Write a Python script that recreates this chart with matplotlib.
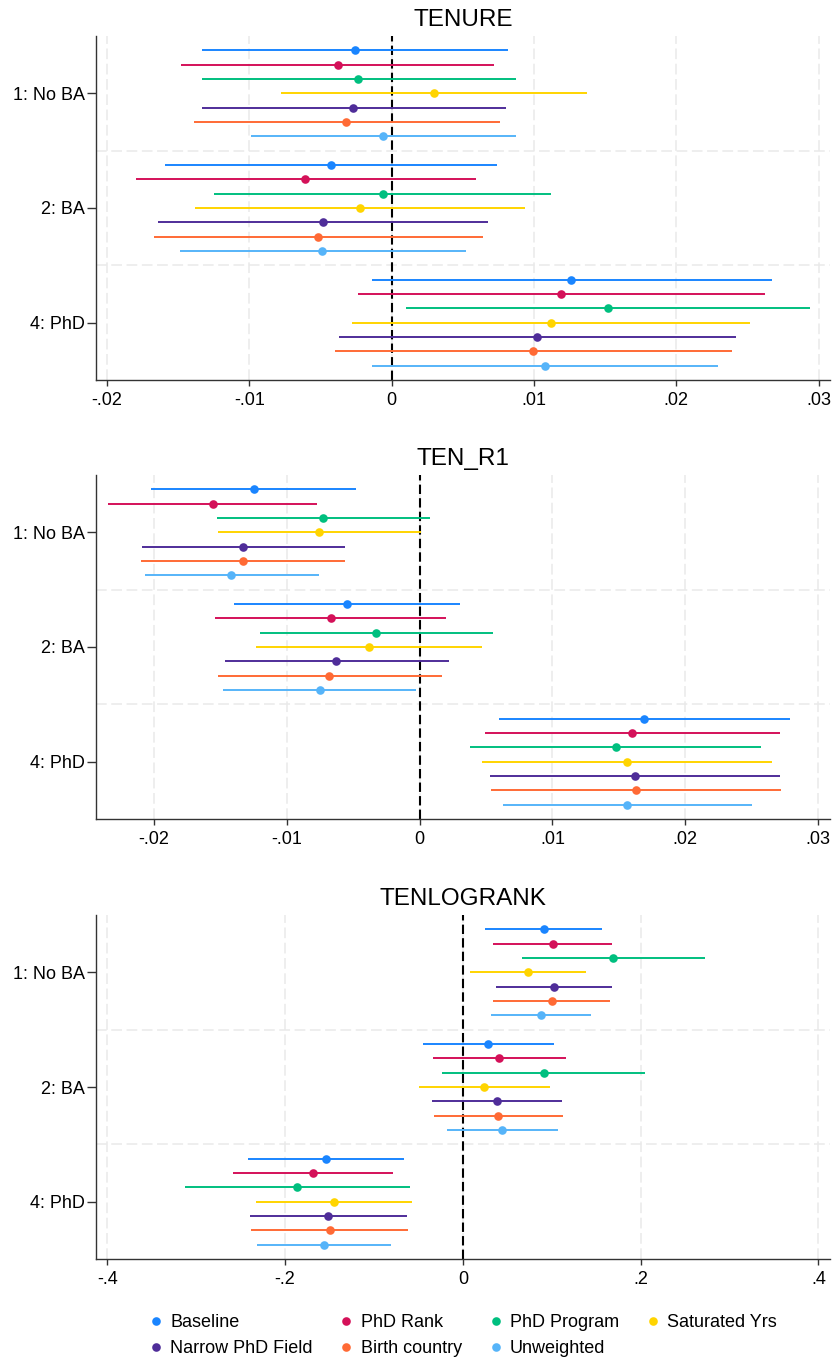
import matplotlib
matplotlib.use("Agg")
import matplotlib.pyplot as plt
from matplotlib.lines import Line2D
from matplotlib.ticker import FuncFormatter

plt.rcParams['font.family'] = ['Liberation Sans', 'DejaVu Sans']

# Specifications (one coloured estimate per specification)
series = ["Baseline", "PhD Rank", "PhD Program", "Saturated Yrs",
          "Narrow PhD Field", "Birth country", "Unweighted"]
colors = ["#1a85ff", "#d41159", "#00bf7f", "#ffd400",
          "#4f2d99", "#ff6a35", "#56b4f9"]

categories = ["1: No BA", "2: BA", "4: PhD"]

# TENURE: rows = categories, columns = specifications
tenure_est = [[-0.0026, -0.0038, -0.0024, 0.0030, -0.0027, -0.0032, -0.0006],
              [-0.0043, -0.0061, -0.0006, -0.0022, -0.0048, -0.0052, -0.0049],
              [0.0126, 0.0119, 0.0152, 0.0112, 0.0102, 0.0099, 0.0108]]
tenure_lo = [[-0.0133, -0.0148, -0.0133, -0.0078, -0.0133, -0.0139, -0.0099],
             [-0.0159, -0.0180, -0.0125, -0.0138, -0.0164, -0.0167, -0.0149],
             [-0.0014, -0.0024, 0.0010, -0.0028, -0.0037, -0.0040, -0.0014]]
tenure_hi = [[0.0082, 0.0072, 0.0087, 0.0137, 0.0080, 0.0076, 0.0087],
             [0.0074, 0.0059, 0.0112, 0.0094, 0.0068, 0.0064, 0.0052],
             [0.0267, 0.0262, 0.0294, 0.0252, 0.0242, 0.0239, 0.0229]]

# TEN_R1
tenr1_est = [[-0.0125, -0.0156, -0.0073, -0.0076, -0.0133, -0.0133, -0.0142],
             [-0.0055, -0.0067, -0.0033, -0.0038, -0.0063, -0.0068, -0.0075],
             [0.0169, 0.0160, 0.0148, 0.0156, 0.0162, 0.0163, 0.0156]]
tenr1_lo = [[-0.0202, -0.0235, -0.0153, -0.0152, -0.0209, -0.0210, -0.0207],
            [-0.0140, -0.0154, -0.0120, -0.0123, -0.0147, -0.0152, -0.0148],
            [0.0060, 0.0049, 0.0038, 0.0047, 0.0053, 0.0054, 0.0063]]
tenr1_hi = [[-0.0048, -0.0077, 0.0008, 0.0001, -0.0056, -0.0056, -0.0076],
            [0.0030, 0.0020, 0.0055, 0.0047, 0.0022, 0.0017, -0.0003],
            [0.0279, 0.0271, 0.0257, 0.0265, 0.0271, 0.0272, 0.0250]]

# TENLOGRANK
tenlog_est = [[0.091, 0.101, 0.169, 0.073, 0.102, 0.100, 0.088],
              [0.028, 0.041, 0.091, 0.024, 0.038, 0.040, 0.044],
              [-0.154, -0.169, -0.187, -0.145, -0.152, -0.150, -0.156]]
tenlog_lo = [[0.025, 0.034, 0.066, 0.008, 0.037, 0.034, 0.032],
             [-0.045, -0.034, -0.023, -0.049, -0.035, -0.032, -0.018],
             [-0.242, -0.259, -0.313, -0.233, -0.239, -0.238, -0.231]]
tenlog_hi = [[0.157, 0.168, 0.272, 0.138, 0.168, 0.166, 0.144],
             [0.102, 0.116, 0.205, 0.098, 0.111, 0.113, 0.107],
             [-0.066, -0.079, -0.060, -0.057, -0.063, -0.062, -0.081]]

tenure_ticks = [-0.02, -0.01, 0, 0.01, 0.02, 0.03]
tenr1_ticks = [-0.02, -0.01, 0, 0.01, 0.02, 0.03]
tenlog_ticks = [-0.4, -0.2, 0, 0.2, 0.4]

panels = [
    ("TENURE", tenure_est, tenure_lo, tenure_hi, tenure_ticks, (-0.0208, 0.0308)),
    ("TEN_R1", tenr1_est, tenr1_lo, tenr1_hi, tenr1_ticks, (-0.0244, 0.0309)),
    ("TENLOGRANK", tenlog_est, tenlog_lo, tenlog_hi, tenlog_ticks, (-0.413, 0.413)),
]


def stata_fmt(v, pos=None):
    if abs(v) < 1e-12:
        return "0"
    s = f"{v:g}"
    s = s.replace("0.", ".")
    return s


W, H = 832, 1362
fig = plt.figure(figsize=(W / 100, H / 100), dpi=100)

left_px, right_px = 95.7, 830
tops = [36, 475, 915]
ax_h = 344

grid_kw = dict(color="#e9e9e9", linewidth=1.1, linestyle=(0, (7, 3)), zorder=0)
n_ser = len(series)

for (title, est, lo, hi, ticks, xlim), top in zip(panels, tops):
    ax = fig.add_axes([left_px / W, 1 - (top + ax_h) / H,
                       (right_px - left_px) / W, ax_h / H])
    for t in ticks:
        ax.axvline(t, **grid_kw)
    for yb in (1.5, 2.5):
        ax.axhline(yb, **grid_kw)
    ax.axvline(0, color="black", linewidth=1.5, linestyle=(0, (4.5, 2)), zorder=1)

    for ci, cat in enumerate(categories):
        for si in range(n_ser):
            y = ci + 1 + (si - 3) * 0.125
            ax.plot([lo[ci][si], hi[ci][si]], [y, y], color=colors[si],
                    linewidth=1.4, solid_capstyle="butt", zorder=2)
            ax.plot(est[ci][si], y, "o", color=colors[si], markersize=6.2,
                    markeredgewidth=0, zorder=3)

    ax.set_xlim(*xlim)
    ax.set_ylim(3.5, 0.5)
    ax.set_xticks(ticks)
    ax.xaxis.set_major_formatter(FuncFormatter(stata_fmt))
    ax.set_yticks([1, 2, 3])
    ax.set_yticklabels(categories)
    ax.tick_params(axis="x", labelsize=13, length=4.3, width=1.0,
                   color="#333333", pad=4.5)
    ax.tick_params(axis="y", labelsize=13, length=6.5, width=1.0,
                   color="#333333", pad=1.5)
    for side in ("top", "right"):
        ax.spines[side].set_visible(False)
    for side in ("left", "bottom"):
        ax.spines[side].set_color("#333333")
        ax.spines[side].set_linewidth(1.0)
    ax.set_title(title, fontsize=17.5, pad=7.2)

# Legend entries fill column by column; order them so rows read left to right
handles = [Line2D([], [], linestyle="none", marker="o", markersize=6.2,
                  markeredgewidth=0, color=c) for c in colors]
order = [0, 4, 1, 5, 2, 6, 3]
fig.legend([handles[i] for i in order], [series[i] for i in order],
           loc="center", ncol=4,
           bbox_to_anchor=(462.8 / W, 1 - 1335.5 / H), frameon=False,
           fontsize=13, handlelength=0.8, handletextpad=0.4,
           columnspacing=1.47, labelspacing=0.5, borderpad=0)

fig.savefig("out.png", dpi=100)
